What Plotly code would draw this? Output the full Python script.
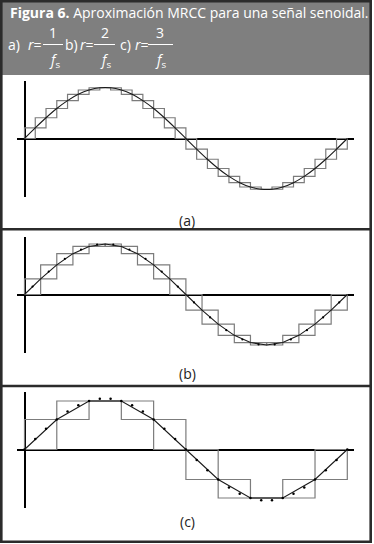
import plotly.graph_objects as go

W, H = 374, 544

# ---- data: normalised sine samples ----
# (a) 30 steps per period (every 12 deg)
deg_a = list(range(0, 361, 12))
val_a = [0, 0.208, 0.407, 0.588, 0.743, 0.866, 0.951, 0.995, 0.995, 0.951, 0.866,
         0.743, 0.588, 0.407, 0.208, 0, -0.208, -0.407, -0.588, -0.743, -0.866,
         -0.951, -0.995, -0.995, -0.951, -0.866, -0.743, -0.588, -0.407, -0.208, 0]
# (b) 20 steps per period (every 18 deg)
deg_b = list(range(0, 361, 18))
val_b = [0, 0.309, 0.588, 0.809, 0.951, 1.0, 0.951, 0.809, 0.588, 0.309, 0,
         -0.309, -0.588, -0.809, -0.951, -1.0, -0.951, -0.809, -0.588, -0.309, 0]
# (b) intermediate sample dots (every 18 deg, offset 9 deg)
deg_b_dots = list(range(9, 360, 18))
val_b_dots = [0.156, 0.454, 0.707, 0.891, 0.988, 0.988, 0.891, 0.707, 0.454, 0.156,
              -0.156, -0.454, -0.707, -0.891, -0.988, -0.988, -0.891, -0.707, -0.454, -0.156]
# (c) 10 steps per period (every 36 deg)
deg_c = list(range(0, 361, 36))
val_c = [0, 0.588, 0.951, 0.951, 0.588, 0, -0.588, -0.951, -0.951, -0.588, 0]
# (c) original sample dots (every 12 deg)
deg_c_dots = deg_a
val_c_dots = val_a

panel_labels = ["(a)", "(b)", "(c)"]
title_line1 = "<b>Figura 6.</b> Aproximación MRCC para una señal senoidal."

GRAY = "#7c7c7c"
BLACK = "#000000"
FRAME = "#2b2b2b"
HEAD = "#7f7f7f"
FONT = "Open Sans, Noto Sans, sans-serif"


def px_x(p):
    return p / W


def px_y(p):
    return 1 - p / H


# panel geometry (pixels): top, bottom of vertical axis, y of horizontal axis, amplitude
panels = [
    dict(top=81, bottom=197, yl=138.5, amp=51.0, lab=220.5),
    dict(top=237, bottom=353, yl=294.5, amp=50.5, lab=373.5),
    dict(top=392, bottom=508, yl=449.5, amp=51.0, lab=521.5),
]
X_LEFT, X_RIGHT, X0, PERIOD = 17, 354, 24.5, 322.8
deg_per_px = 360.0 / PERIOD
xrange_ = [(X_LEFT - X0) * deg_per_px, (X_RIGHT - X0) * deg_per_px]

fig = go.Figure()

series = [
    (deg_a, val_a, None, None, "spline"),
    (deg_b, val_b, deg_b_dots, val_b_dots, "linear"),
    (deg_c, val_c, deg_c_dots, val_c_dots, "linear"),
]

for i, (xs, ys, dx, dy, shape) in enumerate(series):
    ax = "" if i == 0 else str(i + 1)
    xa, ya = "x" + ax, "y" + ax
    for ls in ("hv", "vh"):
        fig.add_trace(go.Scatter(x=xs, y=ys, mode="lines", xaxis=xa, yaxis=ya,
                                 line=dict(color=GRAY, width=1.2, shape=ls),
                                 hoverinfo="skip", showlegend=False))
    fig.add_trace(go.Scatter(x=xs, y=ys, mode="lines", xaxis=xa, yaxis=ya,
                             line=dict(color="#1a1a1a", width=1.1, shape=shape),
                             hoverinfo="skip", showlegend=False))
    if dx is not None:
        fig.add_trace(go.Scatter(x=dx, y=dy, mode="markers", xaxis=xa, yaxis=ya,
                                 marker=dict(color=BLACK, size=2.2 if i == 1 else 2.5),
                                 hoverinfo="skip", showlegend=False))

layout = dict(width=W, height=H, margin=dict(l=0, r=0, t=0, b=0),
              paper_bgcolor="white", plot_bgcolor="rgba(0,0,0,0)",
              font=dict(family=FONT))

for i, p in enumerate(panels):
    ax = "" if i == 0 else str(i + 1)
    yr = [-(p["bottom"] - p["yl"]) / p["amp"], (p["yl"] - p["top"]) / p["amp"]]
    layout["xaxis" + ax] = dict(domain=[px_x(X_LEFT), px_x(X_RIGHT)], range=xrange_,
                                showgrid=False, showticklabels=False, ticks="",
                                zeroline=True, zerolinecolor=BLACK, zerolinewidth=1.6,
                                anchor="y" + ax, fixedrange=True)
    layout["yaxis" + ax] = dict(domain=[px_y(p["bottom"]), px_y(p["top"])], range=yr,
                                showgrid=False, showticklabels=False, ticks="",
                                zeroline=True, zerolinecolor=BLACK, zerolinewidth=1.6,
                                anchor="x" + ax, fixedrange=True)

fig.update_layout(**layout)

shapes = []
# header background
shapes.append(dict(type="rect", xref="paper", yref="paper", x0=px_x(1), x1=px_x(371),
                   y0=px_y(75), y1=px_y(1), fillcolor=HEAD, line=dict(width=0), layer="below"))
# outer frame
shapes.append(dict(type="rect", xref="paper", yref="paper", x0=px_x(1.3), x1=px_x(370.7),
                   y0=px_y(541.7), y1=px_y(1.2), line=dict(color=FRAME, width=2.6)))
# separators
for yy in (229.3, 386.0):
    shapes.append(dict(type="line", xref="paper", yref="paper", x0=px_x(0), x1=px_x(372),
                       y0=px_y(yy), y1=px_y(yy), line=dict(color=FRAME, width=2.6)))
# fraction bars in header
for a, b in ((43, 63), (94, 115), (148, 173)):
    shapes.append(dict(type="line", xref="paper", yref="paper", x0=px_x(a), x1=px_x(b),
                       y0=px_y(44.5), y1=px_y(44.5), line=dict(color="white", width=1)))

ann = []
HF1 = dict(color="white", family=FONT, size=14)
HF = dict(color="white", family=FONT, size=14)
ann.append(dict(text=title_line1, x=px_x(8), y=px_y(12.5), xref="paper", yref="paper",
                xanchor="left", yanchor="middle", showarrow=False, font=HF1))
pieces = [
    ("a)", 6, 44, "left"), ("<i>r</i>=", 26, 44, "left"),
    ("1", 53, 32, "center"), ("<i>f</i><sub>s</sub>", 54, 60, "center"),
    ("b)", 63, 44, "left"), ("<i>r</i>=", 77.5, 44, "left"),
    ("2", 104.5, 32, "center"), ("<i>f</i><sub>s</sub>", 105.5, 60, "center"),
    ("c)", 118, 44, "left"), ("<i>r</i>=", 132.5, 44, "left"),
    ("3", 160, 32, "center"), ("<i>f</i><sub>s</sub>", 160.5, 60, "center"),
]
for txt, xx, yy, xa in pieces:
    ann.append(dict(text=txt, x=px_x(xx), y=px_y(yy), xref="paper", yref="paper",
                    xanchor=xa, yanchor="middle", showarrow=False, font=HF))
for lab, p in zip(panel_labels, panels):
    ann.append(dict(text=lab, x=0.5, y=px_y(p["lab"]), xref="paper", yref="paper",
                    xanchor="center", yanchor="middle", showarrow=False,
                    font=dict(color="#222222", size=14, family=FONT)))

fig.update_layout(shapes=shapes, annotations=ann)

fig.write_html("out.html", post_script="document.body.style.margin='0';",
               config={"displayModeBar": False})
